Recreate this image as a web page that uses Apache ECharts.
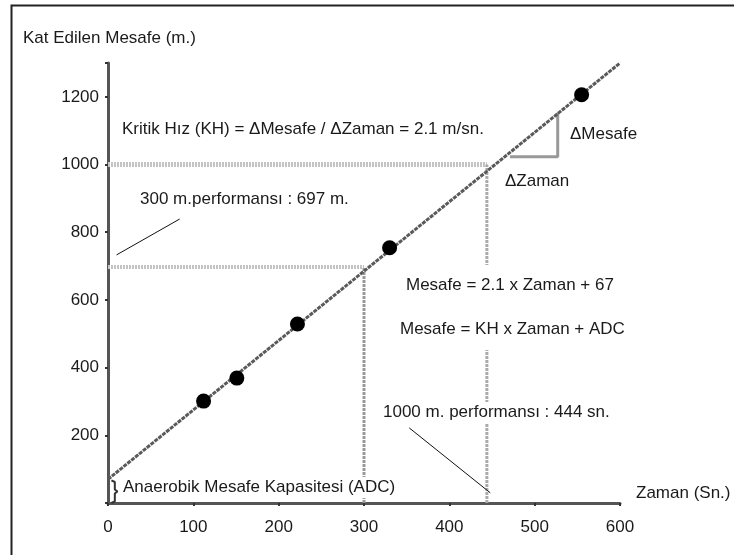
<!DOCTYPE html>
<html><head><meta charset="utf-8">
<script src="https://cdn.jsdelivr.net/npm/echarts@6/dist/echarts.min.js"></script>
<style>html,body{margin:0;padding:0;background:#fff}#c{width:734px;height:555px}</style>
</head><body><div id="c"></div>
<script>
// Data
var xTicks = [0, 100, 200, 300, 400, 500, 600];
var yTicks = [200, 400, 600, 800, 1000, 1200];
var points = [[112, 301], [151, 369], [222, 529], [330, 754], [555, 1206]];
var fitLine = [[0, 70], [600, 1300]];
var h1000 = [[0, 1000], [444, 1000]];
var h697 = [[0, 697], [300, 697]];
var v300 = [[300, 0], [300, 697]];
var v444 = [[444, 0], [444, 1000]];
var triangle = [[471, 1023], [527, 1023], [527, 1153]];
var pointer300 = [[10, 733], [84, 839]];
var pointer1000 = [[353, 222], [448, 30]];
var brace = [[4, 67], [8, 62], [8, 40], [11, 34], [8, 28], [8, 5], [4, 0]];

var FONT = 'Liberation Sans, Arial, sans-serif';
var TXT = '#1a1a1a';
var chart = echarts.init(document.getElementById('c'));

function lineSeries(data, color, width, type) {
  return {type: 'line', data: data, symbol: 'none', silent: true, z: 2,
    lineStyle: {color: color, width: width, type: type || 'solid'}};
}
function txt(x, y, s, pad) {
  var st = {text: s, fill: TXT, font: '17px ' + FONT};
  if (pad) { st.backgroundColor = '#fff'; st.padding = pad; }
  return {type: 'text', left: x, top: y, z: 100, style: st};
}

chart.setOption({
  animation: false,
  backgroundColor: '#fff',
  grid: {left: 108, right: 114, top: 63, bottom: 52, containLabel: false},
  xAxis: {
    type: 'value', min: 0, max: 600, interval: 100,
    axisLine: {show: true, lineStyle: {color: '#555', width: 3}},
    axisTick: {show: true, length: 3, lineStyle: {color: '#333', width: 2}},
    splitLine: {show: false},
    axisLabel: {color: TXT, fontFamily: FONT, fontSize: 17, margin: 16}
  },
  yAxis: {
    type: 'value', min: 0, max: 1300, interval: 200,
    axisLine: {show: true, lineStyle: {color: '#555', width: 3}},
    axisTick: {show: true, length: 3, lineStyle: {color: '#333', width: 2}},
    splitLine: {show: false},
    axisLabel: {color: TXT, fontFamily: FONT, fontSize: 17, margin: 9,
      formatter: function (v) { return yTicks.indexOf(v) >= 0 ? String(v) : ''; }}
  },
  graphic: [
    {type: 'rect', left: 9, top: 3, shape: {width: 800, height: 600},
      style: {fill: 'none', stroke: '#222', lineWidth: 2}, z: -1},
    txt(23, 30, 'Kat Edilen Mesafe (m.)'),
    txt(636, 485, 'Zaman (Sn.)'),
    txt(122, 121, 'Kritik Hız (KH) = ΔMesafe / ΔZaman = 2.1 m/sn.'),
    txt(570, 126, 'ΔMesafe'),
    txt(505, 173, 'ΔZaman'),
    txt(140, 191, '300 m.performansı : 697 m.'),
    txt(403, 265, 'Mesafe = 2.1 x Zaman + 67', [12, 3, 13, 3]),
    txt(397, 308, 'Mesafe = KH x Zaman + ADC', [13, 3, 12, 3]),
    txt(382, 402, '1000 m. performansı : 444 sn.', [2, 1]),
    txt(122, 477, 'Anaerobik Mesafe Kapasitesi (ADC)', [2, 1])
  ],
  series: [
    lineSeries(h1000, '#c4c4c4', 5, [2, 1]),
    lineSeries(h697, '#c4c4c4', 4, [2, 1]),
    lineSeries(v300, '#999', 3, [3, 1]),
    lineSeries(v444, '#aaa', 3, [3, 1]),
    lineSeries(triangle, '#999', 3),
    lineSeries(fitLine, '#5a5a5a', 3, [4, 1]),
    lineSeries(pointer300, '#111', 1),
    lineSeries(pointer1000, '#111', 1),
    lineSeries(brace, '#333', 2),
    {type: 'scatter', data: points, symbol: 'circle', symbolSize: 15, z: 5,
      itemStyle: {color: '#000', opacity: 1}}
  ]
});
</script>
</body></html>
